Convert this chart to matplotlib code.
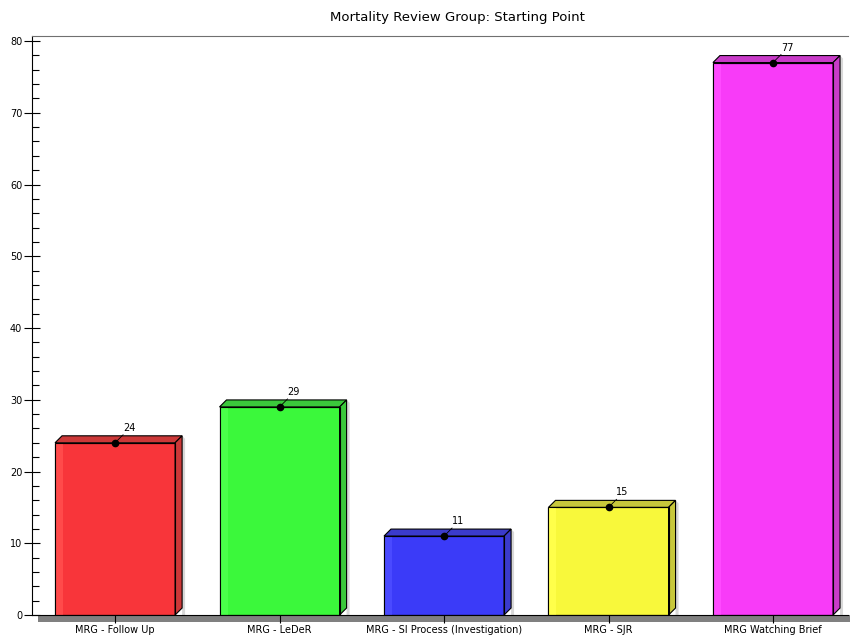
import matplotlib.pyplot as plt
from matplotlib.patches import Polygon, Rectangle
from matplotlib.ticker import MultipleLocator

categories = ["MRG - Follow Up", "MRG - LeDeR", "MRG - SI Process (Investigation)",
              "MRG - SJR", "MRG Watching Brief"]
values = [24, 29, 11, 15, 77]
face_colors = ["#f8353a", "#3bf83b", "#3b3bf8", "#f8f83b", "#f83bf8"]
side_colors = ["#cc3838", "#3bc83b", "#3b3bcc", "#c8c83b", "#c83bc8"]
light_colors = ["#ff4a4a", "#4aff4a", "#4a4aff", "#ffff4a", "#ff4aff"]

W, H = 850, 636
fig = plt.figure(figsize=(W / 100, H / 100), dpi=100)
ax = fig.add_axes([32 / W, 1 - 615 / H, 816 / W, 579 / H])

XMIN, XMAX = -0.505, 4.456
YMIN, YMAX = 0, 80.7
ax.set_xlim(XMIN, XMAX)
ax.set_ylim(YMIN, YMAX)

px_x = (XMAX - XMIN) / 816   # data units per pixel
px_y = (YMAX - YMIN) / 579
dx, dy = 7 * px_x, 7 * px_y
bw = 0.73

for i, (v, fc, sc, lc) in enumerate(zip(values, face_colors, side_colors, light_colors)):
    x0, x1 = i - bw / 2, i + bw / 2
    # soft shadow
    ax.add_patch(Polygon([(x1 + dx, 0), (x1 + dx + 3 * px_x, 0), (x1 + dx + 3 * px_x, v + dy - 3 * px_y),
                          (x1 + dx, v + dy)], closed=True, fc="#d8d8d8", ec="none", zorder=1))
    ax.bar(i, v, width=bw, color=fc, edgecolor="black", linewidth=0.8, zorder=2)
    ax.add_patch(Rectangle((x0, 0), 8 * px_x, v, fc=lc, ec="none", zorder=2.1))
    ax.add_patch(Rectangle((x0, 0), bw, v, fill=False, ec="black", lw=0.8, zorder=2.2))
    ax.add_patch(Polygon([(x0, v), (x0 + dx, v + dy), (x1 + dx, v + dy), (x1, v)],
                         closed=True, fc=sc, ec="black", lw=0.8, zorder=2))
    ax.add_patch(Polygon([(x1, 0), (x1 + dx, dy), (x1 + dx, v + dy), (x1, v)],
                         closed=True, fc=sc, ec="black", lw=0.8, zorder=2))
    # value marker and label
    ax.plot(i, v, "o", color="black", ms=4.5, zorder=4)
    ax.plot([i, i + 8 * px_x], [v, v + 8 * px_y], color="black", lw=0.6, zorder=4)
    ax.text(i + 14 * px_x, v + 10 * px_y, str(v), fontsize=7, ha="center", va="bottom", zorder=4)

# floor strip under the plot
ax.add_patch(Rectangle((6 / 816, -7 / 579), 1.0, 7 / 579,
                       transform=ax.transAxes, fc="#808080", ec="none", clip_on=False, zorder=0))

ax.set_xticks(range(len(categories)), categories, fontsize=7)
ax.tick_params(axis="x", direction="inout", length=12, width=0.8, pad=1)
ax.yaxis.set_major_locator(MultipleLocator(10))
ax.yaxis.set_minor_locator(MultipleLocator(2))
ax.tick_params(axis="y", which="major", direction="inout", length=12, width=0.8, labelsize=7, pad=1)
ax.tick_params(axis="y", which="minor", direction="in", length=5, width=0.8)

ax.spines["right"].set_visible(False)
ax.spines["top"].set_color("#707070")
ax.spines["left"].set_linewidth(0.8)
ax.spines["bottom"].set_linewidth(0.8)

fig.text(457 / W, 1 - 18 / H, "Mortality Review Group: Starting Point", ha="center", va="center", fontsize=9.5)

plt.savefig("out.png")
